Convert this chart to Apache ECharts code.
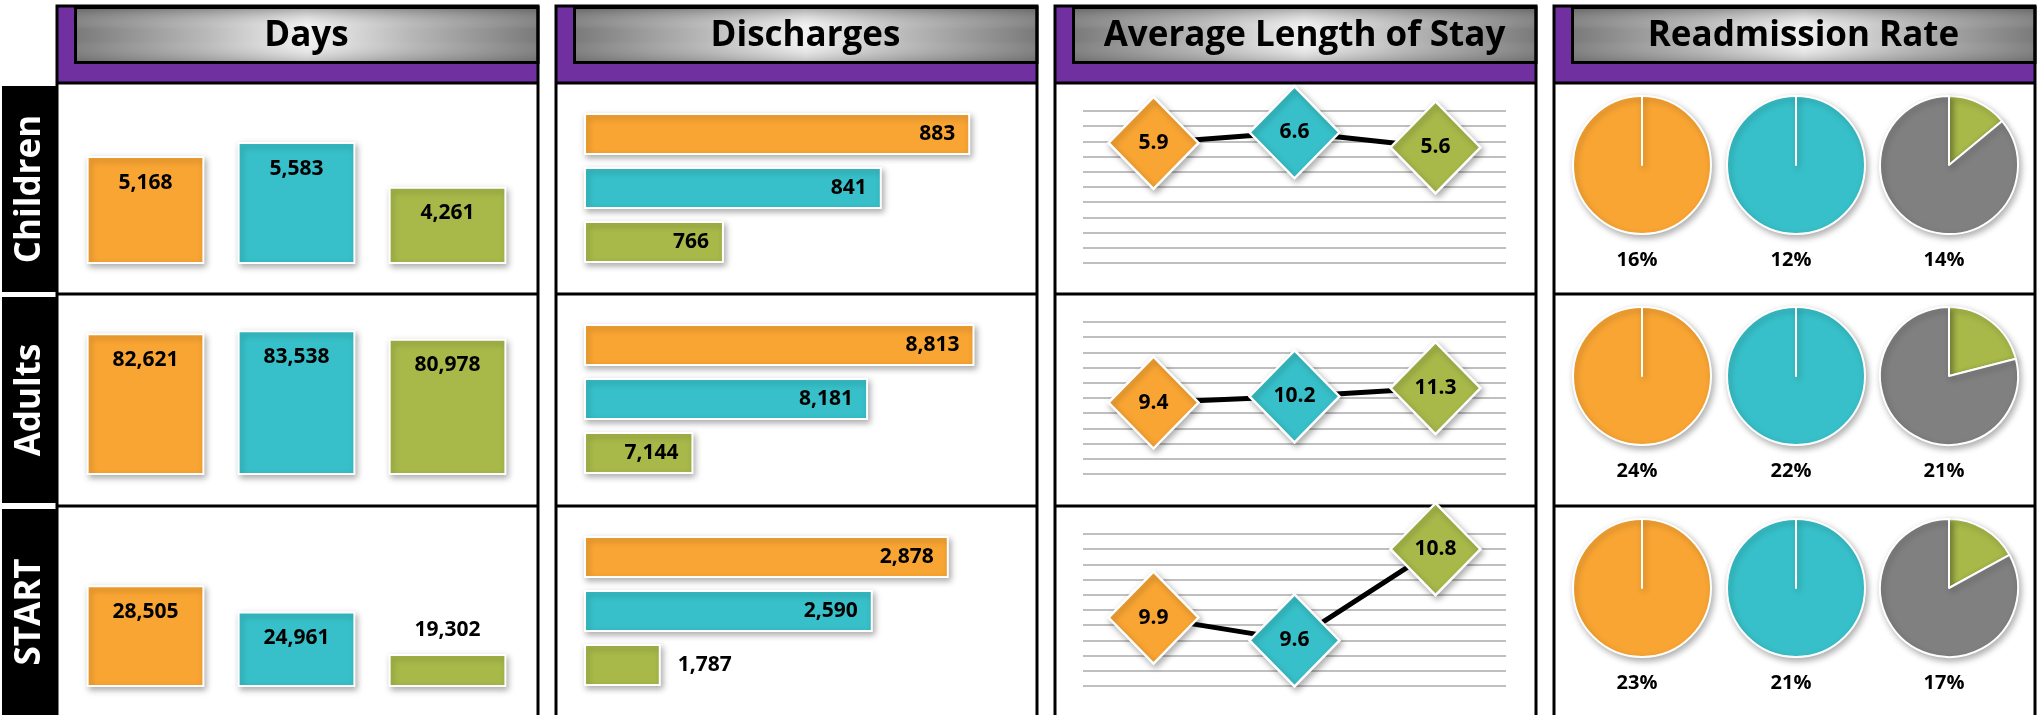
<!DOCTYPE html>
<html lang="en">
<head>
<meta charset="UTF-8" />
<title>Days, discharges, length of stay and readmissions</title>
<script src="https://cdn.jsdelivr.net/npm/echarts@6/dist/echarts.min.js"></script>
<style>
  html, body { margin: 0; padding: 0; background: #fff; }
  #chart { width: 2038px; height: 715px; }
</style>
</head>
<body>
<div id="chart"></div>
<script>
  const periods = ['Period 1', 'Period 2', 'Period 3'];
  const groups = ['Children', 'Adults', 'START'];
  const headers = ['Days', 'Discharges', 'Average Length of Stay', 'Readmission Rate'];

  const days = [[5168, 5583, 4261], [82621, 83538, 80978], [28505, 24961, 19302]];
  const discharges = [[883, 841, 766], [8813, 8181, 7144], [2878, 2590, 1787]];
  const alos = [[5.9, 6.6, 5.6], [9.4, 10.2, 11.3], [9.9, 9.6, 10.8]];
  const readmit = [[16, 12, 14], [24, 22, 21], [23, 21, 17]];

  // value axis ranges (min, max[, interval])
  const daysRange = [[2000, 6000], [40000, 90000], [15000, 30000]];
  const dischRange = [[700, 900], [6500, 9000], [1500, 3000]];
  const alosRange = [[-2, 8, 1], [0, 20, 2], [9, 11, 0.2]];

  const colors = ['#F9A533', '#37C0C9', '#A8B94A'];
  const restColor = '#808080';
  const FONT = '"Open Sans", Lato, sans-serif';

  // layout
  const panelX = [57, 556, 1055, 1554];
  const panelW = 481;
  const rowTop = [83, 294, 506];
  const dayH = [135, 165, 112];
  const dischW = [421, 421, 396];
  const pieX = [1642, 1796, 1949];

  const fmt = v => v.toLocaleString('en-US');
  const shadow = { shadowBlur: 6, shadowColor: 'rgba(0,0,0,0.3)', shadowOffsetX: 2, shadowOffsetY: 3 };
  const labelFont = { fontFamily: FONT, fontWeight: 'bold', fontSize: 21, color: '#000' };

  const grid = [], xAxis = [], yAxis = [], series = [];

  rowTop.forEach((top, r) => {
    // Days
    let g = grid.length;
    grid.push({ left: 70, width: 453, top: top + 180 - dayH[r], height: dayH[r] });
    xAxis.push({ gridIndex: g, type: 'category', data: periods, show: false });
    yAxis.push({ gridIndex: g, type: 'value', min: daysRange[r][0], max: daysRange[r][1], show: false });
    series.push({
      type: 'bar', xAxisIndex: g, yAxisIndex: g, barCategoryGap: '22%',
      itemStyle: Object.assign({ borderColor: '#fff', borderWidth: 2 }, shadow),
      data: days[r].map((v, i) => {
        const fits = (v - daysRange[r][0]) / (daysRange[r][1] - daysRange[r][0]) > 0.35;
        return {
          value: v,
          itemStyle: { color: colors[i] },
          label: { position: fits ? 'insideTop' : 'top', distance: fits ? 16 : 13 }
        };
      }),
      label: Object.assign({ show: true, formatter: p => fmt(p.value) }, labelFont)
    });

    // Discharges
    g = grid.length;
    grid.push({ left: 585, width: dischW[r], top: top + 24, height: 162 });
    xAxis.push({ gridIndex: g, type: 'value', min: dischRange[r][0], max: dischRange[r][1], show: false });
    yAxis.push({ gridIndex: g, type: 'category', data: periods, inverse: true, show: false });
    series.push({
      type: 'bar', xAxisIndex: g, yAxisIndex: g, barCategoryGap: '22%',
      itemStyle: Object.assign({ borderColor: '#fff', borderWidth: 2 }, shadow),
      data: discharges[r].map((v, i) => {
        const fits = (v - dischRange[r][0]) / (dischRange[r][1] - dischRange[r][0]) > 0.22;
        return {
          value: v,
          itemStyle: { color: colors[i] },
          label: { position: fits ? 'insideRight' : 'right', distance: fits ? 15 : 17 }
        };
      }),
      label: Object.assign({ show: true, formatter: p => fmt(p.value) }, labelFont)
    });

    // Average length of stay
    g = grid.length;
    grid.push({ left: 1083, width: 423, top: top + 28, height: 152 });
    xAxis.push({ gridIndex: g, type: 'category', data: periods, show: false });
    yAxis.push({
      gridIndex: g, type: 'value', min: alosRange[r][0], max: alosRange[r][1], interval: alosRange[r][2],
      axisLine: { show: false }, axisTick: { show: false }, axisLabel: { show: false },
      splitLine: { show: true, lineStyle: { color: '#bfbfbf', width: 2 } }
    });
    series.push({
      type: 'line', xAxisIndex: g, yAxisIndex: g, clip: false,
      symbol: 'diamond', symbolSize: [90, 92],
      lineStyle: { color: '#000', width: 5 },
      itemStyle: Object.assign({ borderColor: '#fff', borderWidth: 2.5 }, shadow),
      data: alos[r].map((v, i) => ({ value: v, itemStyle: { color: colors[i] } })),
      label: Object.assign({ show: true, position: 'inside', formatter: p => p.value.toFixed(1) }, labelFont),
      z: 3
    });

    // Readmission rate pies
    readmit[r].forEach((v, k) => {
      const data = k < 2
        ? [{ value: v, itemStyle: { color: colors[k] } }, { value: 0, itemStyle: { color: colors[k] } }]
        : [{ value: v, itemStyle: { color: colors[k] } }, { value: 100 - v, itemStyle: { color: restColor } }];
      series.push({
        type: 'pie', center: [pieX[k], top + 82], radius: 69, startAngle: 90, clockwise: true,
        label: { show: false }, labelLine: { show: false },
        itemStyle: Object.assign({ borderColor: '#fff', borderWidth: 2 }, shadow),
        data
      });
    });
  });

  // frames, headers, row labels, pie captions
  const graphic = [];
  const headGrad = {
    type: 'linear', x: 0, y: 0, x2: 1, y2: 0,
    colorStops: [
      { offset: 0, color: '#7a7a7a' }, { offset: 0.28, color: '#b8b8b8' },
      { offset: 0.5, color: '#f2f2f2' }, { offset: 0.72, color: '#b8b8b8' },
      { offset: 1, color: '#7a7a7a' }
    ]
  };
  const headShade = {
    type: 'linear', x: 0, y: 0, x2: 0, y2: 1,
    colorStops: [
      { offset: 0, color: 'rgba(70,70,70,0.45)' }, { offset: 0.4, color: 'rgba(255,255,255,0)' },
      { offset: 0.6, color: 'rgba(255,255,255,0)' }, { offset: 1, color: 'rgba(70,70,70,0.3)' }
    ]
  };
  panelX.forEach((x, c) => {
    const box = { x: x + 18.5, y: 7.5, width: panelW - 18.5, height: 55 };
    graphic.push({ type: 'rect', shape: { x: x, y: 6, width: panelW, height: 77 }, style: { fill: '#7030A0' } });
    graphic.push({ type: 'rect', shape: box, style: { fill: headGrad } });
    graphic.push({ type: 'rect', shape: box, style: { fill: headShade } });
    graphic.push({ type: 'rect', shape: box, style: { fill: null, stroke: '#000', lineWidth: 3 } });
    graphic.push({
      type: 'text', x: x + 18 + (panelW - 18) / 2, y: 36,
      style: {
        text: headers[c], fill: '#000', fontFamily: FONT, fontWeight: 'bold', fontSize: 35,
        align: 'center', verticalAlign: 'middle'
      }
    });
    graphic.push({ type: 'rect', shape: { x: x, y: 6, width: panelW, height: 760 }, style: { fill: null, stroke: '#000', lineWidth: 3 } });
    rowTop.forEach(y => {
      graphic.push({ type: 'line', shape: { x1: x, y1: y, x2: x + panelW, y2: y }, style: { stroke: '#000', lineWidth: 3 } });
    });
  });
  rowTop.forEach((y, r) => {
    graphic.push({ type: 'rect', shape: { x: 2, y: y + 3, width: 56, height: 206 }, style: { fill: '#000' } });
    graphic.push({
      type: 'text', x: 30, y: y + 106, rotation: Math.PI / 2,
      style: {
        text: groups[r], fill: '#fff', fontFamily: FONT, fontWeight: 'bold', fontSize: 35,
        align: 'center', verticalAlign: 'middle'
      }
    });
    readmit[r].forEach((v, k) => {
      graphic.push({
        type: 'text', x: pieX[k] - 5, y: y + 177,
        style: {
          text: v + '%', fill: '#000', fontFamily: FONT, fontWeight: 'bold', fontSize: 20,
          align: 'center', verticalAlign: 'middle'
        }
      });
    });
  });

  const chart = echarts.init(document.getElementById('chart'));
  chart.setOption({
    animation: false,
    backgroundColor: '#fff',
    grid, xAxis, yAxis, series, graphic
  });
</script>
</body>
</html>
